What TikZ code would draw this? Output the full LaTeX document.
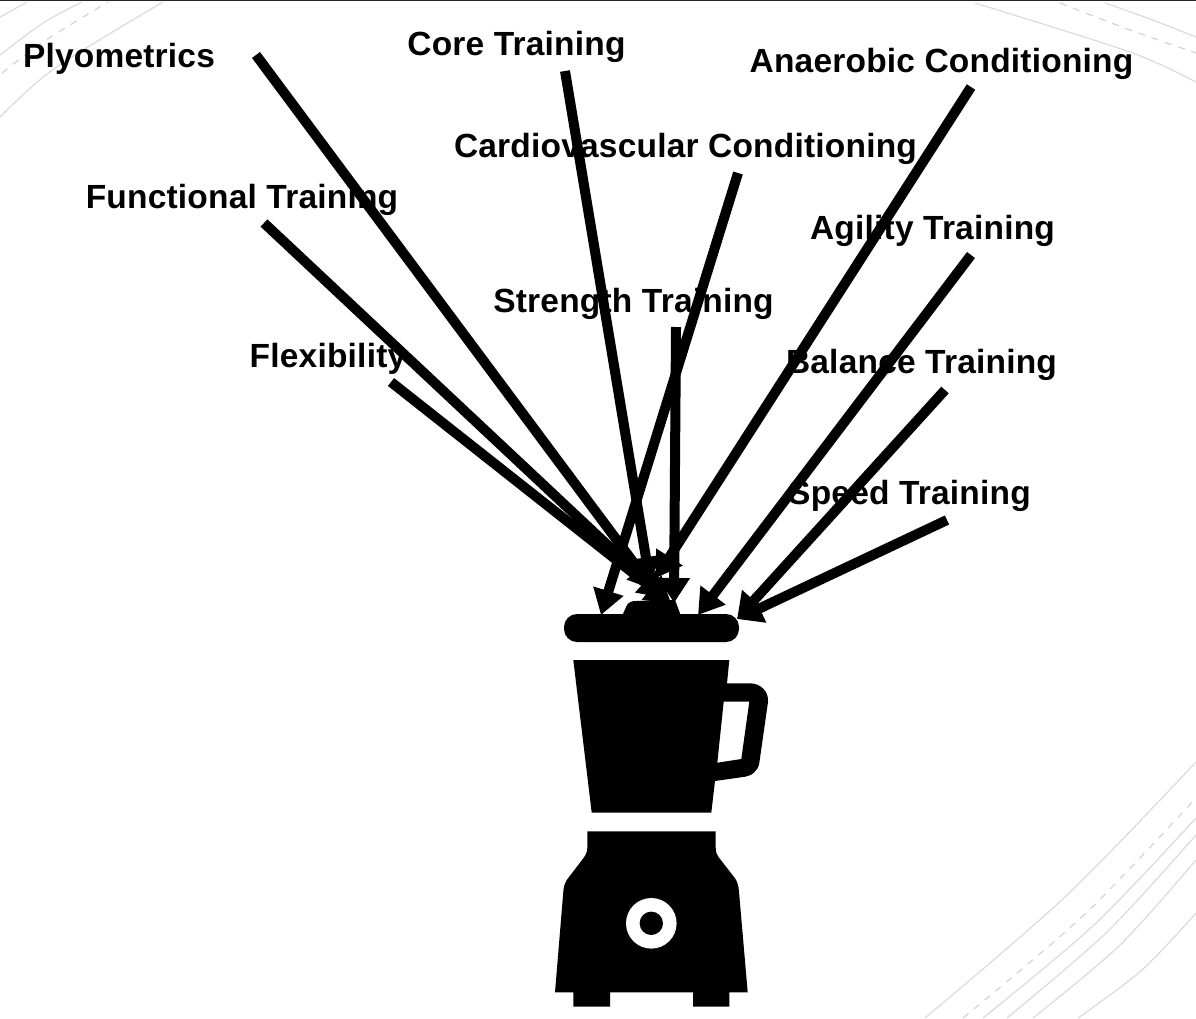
\documentclass[tikz,border=0pt]{standalone}
\usepackage{fontspec}
\setmainfont[LetterSpace=0.6]{Liberation Sans}
\usetikzlibrary{arrows.meta}
\tikzset{
  lbl/.style={font=\fontsize{33.5}{36}\selectfont\bfseries, inner sep=0pt, anchor=base, text=black},
  blendarrow/.style={line width=10pt, draw=black, -{Triangle[length=25pt,width=30pt]}},
  arc/.style={draw=black!15, line width=1.1pt, smooth},
  arcd/.style={draw=black!18, line width=1.1pt, smooth, dash pattern=on 7pt off 7pt},
  ink/.style={fill=black, draw=none},
}
\begin{document}
\begin{tikzpicture}[x=1pt,y=-1pt]
\useasboundingbox (0,0) rectangle (1196,1018);
\fill[white] (0,0) rectangle (1196,1018);
% background arcs
\draw[arc] plot coordinates {(0,117) (55,68) (163,2)};
\draw[arcd] plot coordinates {(2,73) (43,42) (108,2)};
\draw[arc] plot coordinates {(0,55) (43,23) (82,2)};
\draw[arc] plot coordinates {(0,17) (27,2)};
\draw[arc] plot coordinates {(975,3) (1130,52) (1196,82)};
\draw[arcd] plot coordinates {(1060,3) (1130,30) (1196,53)};
\draw[arc] plot coordinates {(1105,3) (1150,19) (1196,37)};
\draw[arc] plot coordinates {(925,1018) (1066,896) (1196,762)};
\draw[arcd] plot coordinates {(963,1018) (1085,914) (1196,798)};
\draw[arc] plot coordinates {(983,1018) (1095,924) (1196,818)};
\draw[arc] plot coordinates {(1007,1018) (1107,932) (1196,835)};
\draw[arc] plot coordinates {(1033,1018) (1120,945) (1196,860)};
\draw[arc] plot coordinates {(1078,1018) (1142,970) (1196,913)};
\fill[black!85] (0,0) rectangle (1196,1.2);
% blender
\fill[ink] (622,616) -- (627,605) .. controls (629,602) and (632,601) .. (636,601) -- (675,600) -- (681,616) -- cycle;
\node[ink, rounded corners=13pt, minimum width=175pt, minimum height=28pt, inner sep=0pt] (lid) at (651.5,628) {};
\fill[ink, even odd rule]
  (573.3,660) -- (729.3,660) -- (727,683.3) -- (750,683.3)
  .. controls (761,683.3) and (769,692) .. (768,702)
  -- (759.3,763) .. controls (758,771) and (752,776) .. (743,777)
  -- (715,781) -- (711.3,812.7) -- (591.7,812.7) -- cycle
  (723.7,701.7) -- (749.3,701.7) -- (741.3,759) -- (717.3,762.7) -- cycle;
\fill[ink]
  (587.3,831.3) -- (715.7,831.3) -- (715.7,848)
  .. controls (715.7,851) and (716,854) .. (718.3,856.7)
  -- (735,878.3) .. controls (737,881) and (738.7,886) .. (739,891.7)
  -- (747.7,992.3) -- (729.3,992.3) -- (729.3,1006.7) -- (693,1006.7) -- (693,992.3)
  -- (610,992.3) -- (610,1006.7) -- (573.3,1006.7) -- (573.3,992.3) -- (555,992.3)
  -- (563.3,891.7) .. controls (563.7,886) and (565,883) .. (566.7,880)
  -- (583.3,858.3) .. controls (586,855) and (587.3,851) .. (587.3,848) -- cycle;
\fill[white] (651.3,923.3) circle (25.3);
\fill[ink] (651.3,923.3) circle (11.7);
% labels
\node[lbl] (plyo) at (119,67) {Plyometrics};
\node[lbl] (core) at (516.5,55) {Core Training};
\node[lbl] (anaer) at (941.5,72) {Anaerobic Conditioning};
\node[lbl] (cardio) at (685.5,157) {Cardiovascular Conditioning};
\node[lbl] (func) at (242,208) {Functional Training};
\node[lbl] (agil) at (932.5,239) {Agility Training};
\node[lbl] (stren) at (633.5,312) {Strength Training};
\node[lbl] (flex) at (328,367) {Flexibility};
\node[lbl] (bal) at (921.5,373) {Balance Training};
\node[lbl] (speed) at (909.5,504) {Speed Training};
% arrow ends
\coordinate (sPlyo) at (256,55);
\coordinate (sCore) at (565,71);
\coordinate (sAnaer) at (971,87);
\coordinate (sCardio) at (738,173);
\coordinate (sFunc) at (264,223);
\coordinate (sAgil) at (971,255);
\coordinate (sStren) at (676,327);
\coordinate (sFlex) at (391,382);
\coordinate (sBal) at (945,390);
\coordinate (sSpeed) at (947,520);
\coordinate (tPlyo) at (654,590);
\coordinate (tCore) at (650,582);
\coordinate (tAnaer) at (656,578);
\coordinate (tCardio) at (601,615);
\coordinate (tFunc) at (664,598);
\coordinate (tFlex) at (671,603);
\coordinate (tStren) at (674,603);
\coordinate (tAgil) at (698,615);
\coordinate (tBal) at (737,619);
\coordinate (tSpeed) at (737,619);
\draw[blendarrow] (sPlyo) -- (tPlyo);
\draw[blendarrow] (sCore) -- (tCore);
\draw[blendarrow] (sAnaer) -- (tAnaer);
\draw[blendarrow] (sCardio) -- (tCardio);
\draw[blendarrow] (sFunc) -- (tFunc);
\draw[blendarrow] (sFlex) -- (tFlex);
\draw[blendarrow] (sStren) -- (tStren);
\draw[blendarrow] (sAgil) -- (tAgil);
\draw[blendarrow] (sBal) -- (tBal);
\draw[blendarrow] (sSpeed) -- (tSpeed);
\end{tikzpicture}
\end{document}
